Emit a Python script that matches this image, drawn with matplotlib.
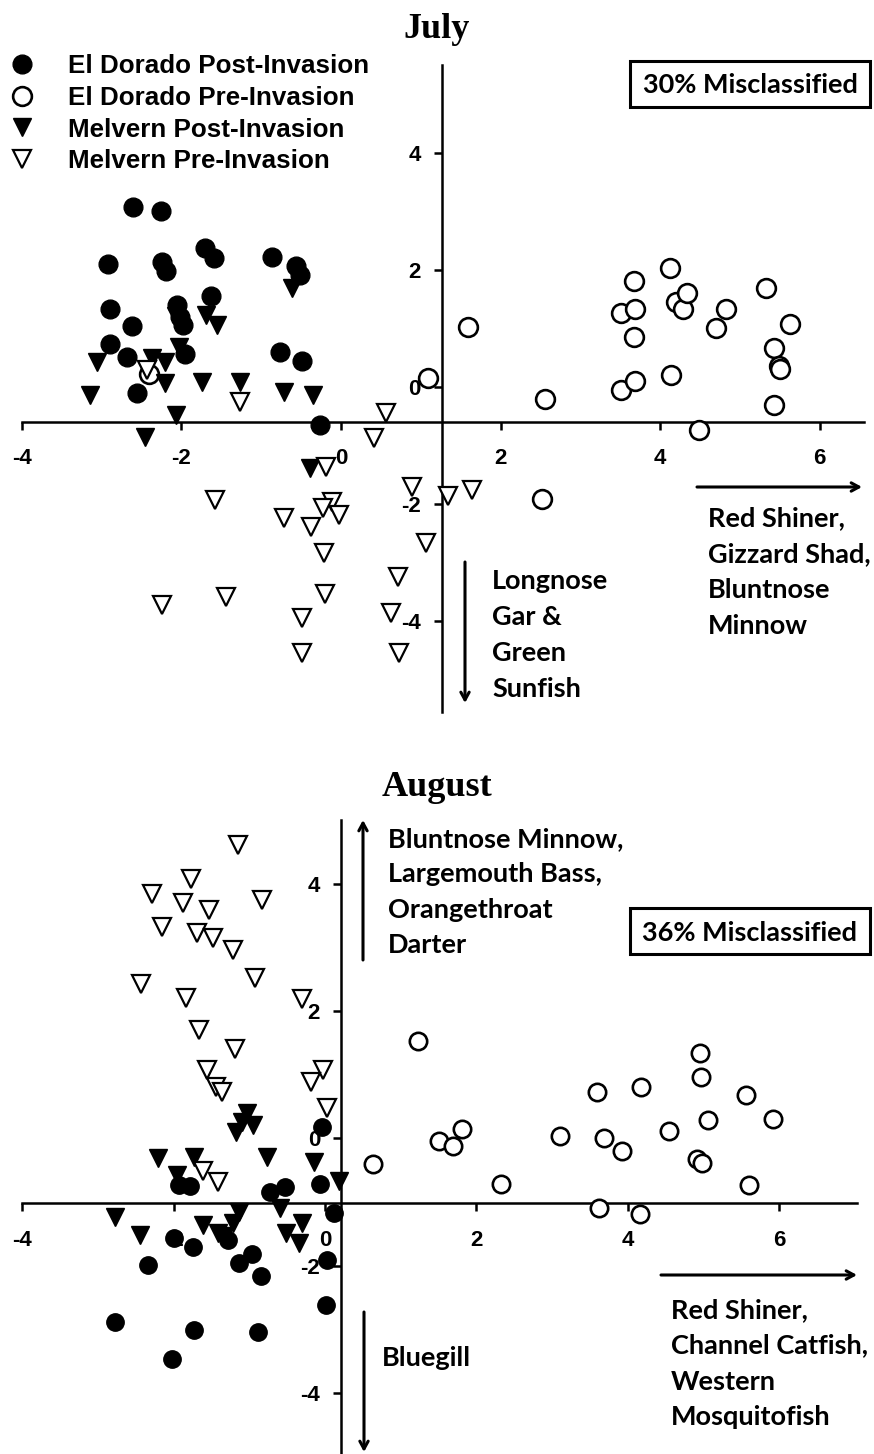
import matplotlib
matplotlib.use('Agg')
import matplotlib.pyplot as plt
from matplotlib.lines import Line2D
from matplotlib.patches import Rectangle

plt.rcParams['axes.unicode_minus'] = False
plt.rcParams['font.family'] = ['Liberation Sans', 'DejaVu Sans']

# ---------------- DATA ----------------
legend_labels = ["El Dorado Post-Invasion", "El Dorado Pre-Invasion",
                 "Melvern Post-Invasion", "Melvern Pre-Invasion"]
tick_x = [-4, -2, 0, 2, 4, 6]
tick_y = [-4, -2, 0, 2, 4]

# July
jul_ed_post_x = [-2.61, -2.26, -2.92, -2.24, -2.19, -1.70, -1.59, -0.87, -0.56, -0.51, -1.63, -2.89,
                 -2.05, -2.02, -1.98, -2.62, -2.90, -2.68, -1.96, -0.76, -0.49, -2.56, -0.26]
jul_ed_post_y = [3.07, 3.01, 2.10, 2.13, 1.99, 2.37, 2.21, 2.23, 2.06, 1.91, 1.56, 1.33,
                 1.40, 1.20, 1.06, 1.05, 0.73, 0.52, 0.56, 0.59, 0.45, -0.11, -0.65]
jul_ed_pre_x = [1.09, 1.59, 2.56, 3.51, 3.67, 3.68, 3.67, 3.51, 3.69, 4.12, 4.20, 4.28, 4.34,
                4.14, 4.49, 4.70, 4.82, 5.32, 5.63, 5.43, 5.49, 5.50, 5.43, 2.52, -2.41]
jul_ed_pre_y = [0.15, 1.03, -0.21, 1.26, 1.81, 1.33, 0.85, -0.05, 0.10, 2.03, 1.46, 1.33, 1.60,
                0.21, -0.73, 1.01, 1.34, 1.70, 1.08, 0.66, 0.36, 0.31, -0.31, -1.92, 0.23]
jul_mel_post_x = [-0.61, -1.69, -1.55, -2.07, -2.03, -3.06, -2.37, -2.20, -2.21, -1.74, -1.27,
                  -0.72, -0.35, -3.14, -2.07, -2.46, -0.39]
jul_mel_post_y = [1.69, 1.23, 1.06, 1.21, 0.69, 0.43, 0.49, 0.42, 0.06, 0.09, 0.09,
                  -0.08, -0.14, -0.14, -0.48, -0.85, -1.38]
jul_mel_pre_x = [-2.43, -1.27, 0.57, 0.41, -0.19, 0.89, 1.64, 1.34, -1.58, -0.11, -0.23, -0.02,
                 -0.72, -0.37, 1.07, -0.21, 0.72, -0.20, -1.44, -2.24, -0.49, 0.63, -0.49, 0.73]
jul_mel_pre_y = [0.29, -0.25, -0.45, -0.87, -1.37, -1.71, -1.76, -1.87, -1.93, -1.96, -2.07, -2.19,
                 -2.24, -2.39, -2.67, -2.83, -3.24, -3.53, -3.59, -3.73, -3.95, -3.87, -4.55, -4.55]

# August
aug_ed_post_x = [-0.04, -1.93, -1.78, -0.72, -0.53, -0.06, 0.12, -2.00, -1.75, -2.34, -1.28,
                 -1.13, -0.96, -0.85, 0.02, 0.01, -2.77, -1.73, -0.88, -2.02]
aug_ed_post_y = [0.18, -0.73, -0.75, -0.84, -0.76, -0.71, -1.18, -1.57, -1.70, -1.99, -1.60,
                 -1.96, -1.81, -2.16, -1.91, -2.62, -2.89, -3.01, -3.04, -3.46]
aug_ed_pre_x = [1.23, 4.95, 4.97, 3.59, 4.17, 5.56, 5.06, 5.92, 4.54, 3.10, 3.68, 3.92, 1.50,
                1.69, 1.81, 4.92, 4.98, 5.60, 2.32, 0.64, 3.62, 4.16]
aug_ed_pre_y = [1.52, 1.34, 0.97, 0.73, 0.80, 0.68, 0.28, 0.30, 0.12, 0.04, 0.01, -0.20, -0.05,
                -0.12, 0.14, -0.33, -0.39, -0.74, -0.72, -0.40, -1.10, -1.19]
aug_mel_post_x = [-1.03, -1.10, -0.95, -1.17, -2.21, -1.73, -0.77, -0.15, -1.96, 0.18, -2.78,
                  -2.45, -1.13, -1.61, -1.41, -1.21, -0.60, -0.31, -0.51, -0.35, -1.34]
aug_mel_post_y = [0.39, 0.26, 0.21, 0.10, -0.31, -0.29, -0.29, -0.37, -0.58, -0.67, -1.23,
                  -1.52, -1.15, -1.36, -1.49, -1.33, -1.10, -1.33, -1.49, -1.65, -1.54]
aug_mel_pre_x = [-1.15, -1.77, -2.29, -1.87, -1.53, -0.83, -2.15, -1.69, -1.48, -1.22, -2.43,
                 -0.93, -1.84, -0.31, -1.67, -1.19, -1.56, -1.44, -1.36, -0.03, -0.19, 0.02,
                 -1.61, -1.41]
aug_mel_pre_y = [4.60, 4.07, 3.83, 3.69, 3.58, 3.74, 3.31, 3.23, 3.14, 2.95, 2.42,
                 2.51, 2.21, 2.18, 1.70, 1.40, 1.08, 0.81, 0.73, 1.07, 0.89, 0.47,
                 -0.51, -0.68]

jul_title = "July"
aug_title = "August"
jul_box = "30% Misclassified"
aug_box = "36% Misclassified"
jul_right_lines = ["Red Shiner,", "Gizzard Shad,", "Bluntnose", "Minnow"]
jul_down_lines = ["Longnose", "Gar &", "Green", "Sunfish"]
aug_up_lines = ["Bluntnose Minnow,", "Largemouth Bass,", "Orangethroat", "Darter"]
aug_right_lines = ["Red Shiner,", "Channel Catfish,", "Western", "Mosquitofish"]
aug_down_lines = ["Bluegill"]

# ---------------- FIGURE ----------------
W, H = 874, 1454
fig = plt.figure(figsize=(W / 100, H / 100), dpi=100)


def rect(ox, sx, oy, sy, xlim, ylim):
    px0 = ox + sx * xlim[0]
    px1 = ox + sx * xlim[1]
    pytop = oy - sy * ylim[1]
    pybot = oy - sy * ylim[0]
    return [px0 / W, 1 - pybot / H, (px1 - px0) / W, (pybot - pytop) / H]


def style(kind):
    if kind == 'ed_post':
        return dict(marker='o', mfc='black', mec='black', mew=1.0)
    if kind == 'ed_pre':
        return dict(marker='o', mfc='white', mec='black', mew=1.9)
    if kind == 'mel_post':
        return dict(marker='v', mfc='black', mec='black', mew=1.0)
    return dict(marker='v', mfc='white', mec='black', mew=1.6)


def panel(r, xlim, ylim, xcross, ycross, series, ms_c, ms_t):
    ax = fig.add_axes(r)
    ax.set_xlim(*xlim)
    ax.set_ylim(*ylim)
    ax.patch.set_alpha(0)
    for s in ['top', 'right']:
        ax.spines[s].set_visible(False)
    ax.spines['left'].set_position(('data', xcross))
    ax.spines['bottom'].set_position(('data', ycross))
    for s in ['left', 'bottom']:
        ax.spines[s].set_linewidth(1.8)
    ax.set_xticks(tick_x)
    ax.set_yticks(tick_y)
    ax.set_xticklabels([str(v) for v in tick_x])
    ax.set_yticklabels([str(v) for v in tick_y])
    ax.tick_params(axis='x', direction='out', length=6, width=1.8, pad=13, labelsize=16)
    ax.tick_params(axis='y', direction='out', length=6, width=1.8, pad=9, labelsize=16)
    for lbl in ax.get_xticklabels() + ax.get_yticklabels():
        lbl.set_fontweight('bold')
    for kind, xs, ys in series:
        ms = ms_c if kind.startswith('ed') else ms_t
        ax.plot(xs, ys, ls='none', ms=ms, zorder=3, clip_on=False, **style(kind))
    return ax


ax1 = panel(rect(341, 79.8, 387, 58.5, (-4, 6.55), (-5.55, 5.5)), (-4, 6.55), (-5.55, 5.5),
            1.26, -0.6,
            [('ed_post', jul_ed_post_x, jul_ed_post_y), ('ed_pre', jul_ed_pre_x, jul_ed_pre_y),
             ('mel_post', jul_mel_post_x, jul_mel_post_y), ('mel_pre', jul_mel_pre_x, jul_mel_pre_y)],
            13.5, 13)
ax2 = panel(rect(325, 75.7, 1138.3, 63.7, (-4, 7.03), (-5.0, 5.0)), (-4, 7.03), (-5.0, 5.0),
            0.21, -1.02,
            [('ed_post', aug_ed_post_x, aug_ed_post_y), ('ed_pre', aug_ed_pre_x, aug_ed_pre_y),
             ('mel_post', aug_mel_post_x, aug_mel_post_y), ('mel_pre', aug_mel_pre_x, aug_mel_pre_y)],
            12.5, 12.5)

# overlay in pixel coordinates (top-left origin)
ov = fig.add_axes([0, 0, 1, 1], zorder=5)
ov.set_xlim(0, W)
ov.set_ylim(H, 0)
ov.axis('off')
ov.patch.set_visible(False)

tfont = dict(family=['Liberation Serif', 'DejaVu Serif'], weight='bold', size=26)
ov.text(437, 38, jul_title, ha='center', va='baseline', **tfont)
ov.text(437, 796, aug_title, ha='center', va='baseline', **tfont)

afont = dict(family=['Lato', 'DejaVu Sans'], weight='bold', size=19.5)


def lines(x, baselines, txts):
    for b, t in zip(baselines, txts):
        ov.text(x, b, t, ha='left', va='baseline', **afont)


def arrow(x0, y0, x1, y1):
    ov.annotate('', xy=(x1, y1), xytext=(x0, y0),
                arrowprops=dict(arrowstyle='->,head_length=0.55,head_width=0.3', lw=2.2,
                                color='black', shrinkA=0, shrinkB=0))


# July annotations
arrow(697, 487, 862, 487)
lines(708, [526, 562, 598, 634], jul_right_lines)
arrow(465, 562, 465, 703)
lines(492, [589, 625, 661, 697], jul_down_lines)
ov.add_patch(Rectangle((630, 61), 240, 46, fill=False, lw=2.2, ec='black'))
ov.text(750, 93, jul_box, ha='center', va='baseline', **afont)

# August annotations
arrow(363, 960, 363, 820)
lines(388, [847, 882, 918, 953], aug_up_lines)
ov.add_patch(Rectangle((630, 908), 240, 46, fill=False, lw=2.2, ec='black'))
ov.text(750, 941, aug_box, ha='center', va='baseline', **afont)
arrow(661, 1275, 857, 1275)
lines(671, [1318, 1353, 1390, 1425], aug_right_lines)
arrow(364, 1312, 364, 1452)
lines(382, [1366], aug_down_lines)

# Legend
handles = [Line2D([], [], ls='none', ms=13.5, **style(k))
           for k in ['ed_post', 'ed_pre', 'mel_post', 'mel_pre']]
ov.legend(handles, legend_labels, loc='upper left', bbox_to_anchor=(6.6, 54),
          bbox_transform=ov.transData, frameon=False, borderpad=0, borderaxespad=0,
          handlelength=1.2, handletextpad=1.15, labelspacing=0.3, numpoints=1,
          prop=dict(family='Liberation Sans', weight='bold', size=18.7))

fig.savefig('out.png', dpi=100)
